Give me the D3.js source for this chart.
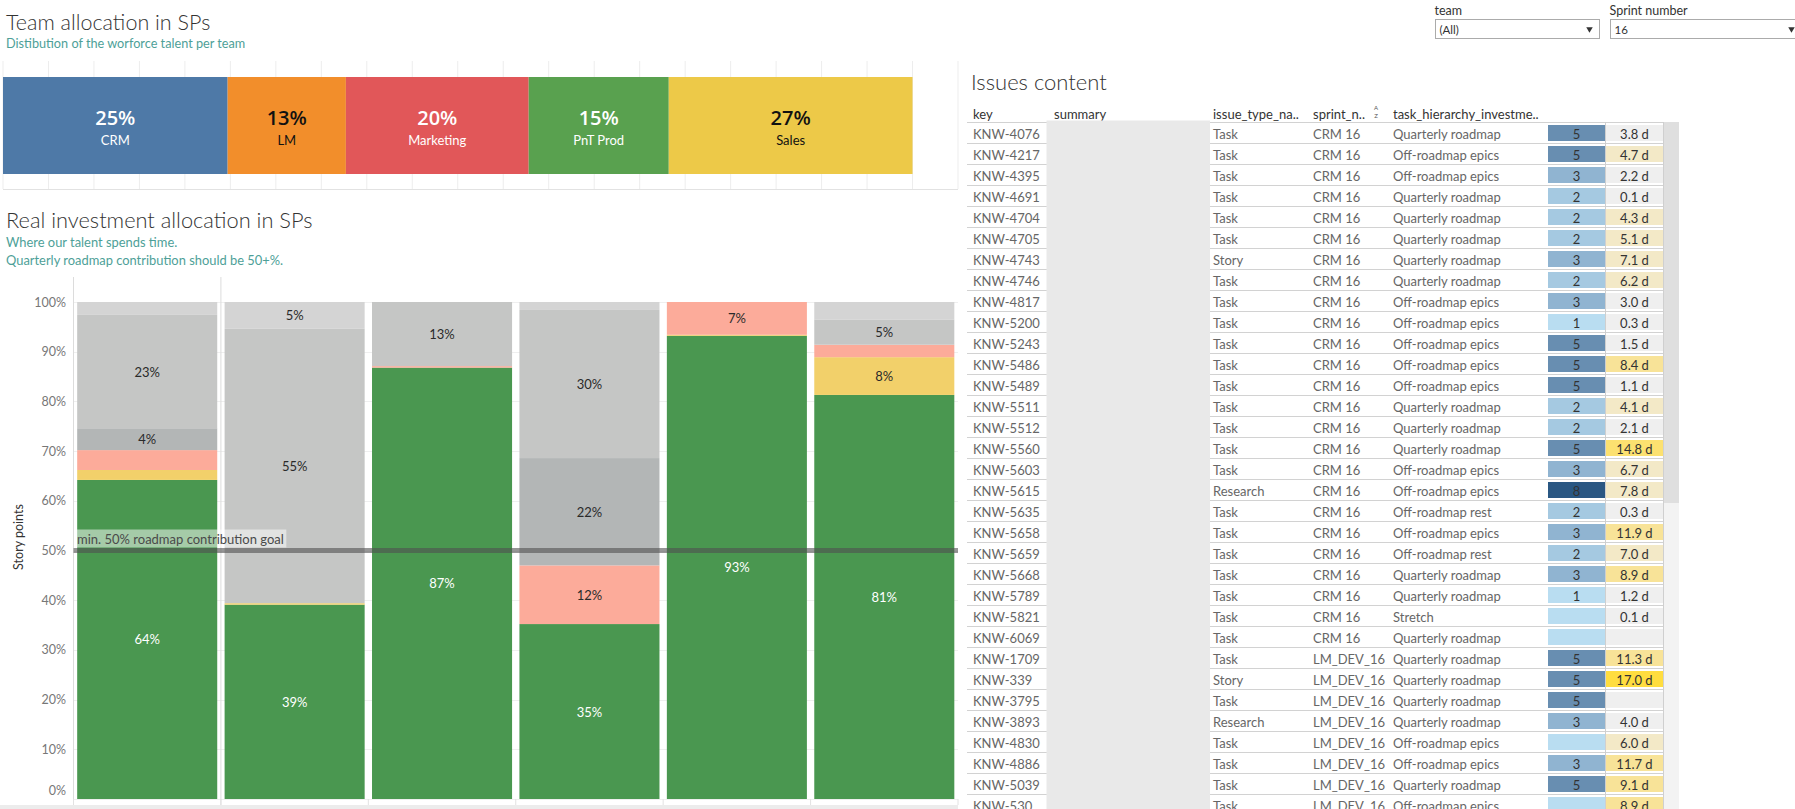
<!DOCTYPE html>
<html>
<head>
<meta charset="utf-8">
<script src="https://cdn.jsdelivr.net/npm/d3@7"></script>
<style>
  html, body { margin: 0; padding: 0; background: #fff; }
  svg { display: block; font-family: Lato, "Open Sans", sans-serif; }
</style>
</head>
<body>
<svg id="dash" width="1795" height="809"></svg>
<script>
// ---------------- DATA ----------------
// Team allocation (share of story points, %)
const teams = ["CRM", "LM", "Marketing", "PnT Prod", "Sales"];
const teamShare = [24.7, 13.0, 20.1, 15.4, 26.8];

// Real investment allocation (stacked %, per team bar)
const investTeams = ["CRM", "LM", "Marketing", "PnT Prod", "Sales", "Other"];
const investCategories = ["Quarterly roadmap", "Stretch", "Off-roadmap epics", "Off-roadmap rest", "Unplanned", "Unestimated"];
const quarterlyRoadmap = [64.2, 39.1, 86.8, 35.2, 93.2, 81.3];
const stretch          = [2.0, 0.3, 0.0, 0.0, 0.2, 7.6];
const offRoadmapEpics  = [4.0, 0.0, 0.3, 11.8, 6.6, 2.5];
const offRoadmapRest   = [4.4, 0.0, 0.0, 21.6, 0.0, 0.0];
const unplanned        = [22.8, 55.2, 12.9, 29.8, 0.0, 5.1];
const unestimated      = [2.6, 5.4, 0.0, 1.6, 0.0, 3.5];
const goalValue = 50;
const goalLabel = "min. 50% roadmap contribution goal";
const yTicks = [0, 10, 20, 30, 40, 50, 60, 70, 80, 90, 100];

// Issues table
const tableHeaders = ["key", "summary", "issue_type_na..", "sprint_n..", "task_hierarchy_investme.."];
const issueKeys = ["KNW-4076","KNW-4217","KNW-4395","KNW-4691","KNW-4704","KNW-4705","KNW-4743","KNW-4746","KNW-4817","KNW-5200","KNW-5243","KNW-5486","KNW-5489","KNW-5511","KNW-5512","KNW-5560","KNW-5603","KNW-5615","KNW-5635","KNW-5658","KNW-5659","KNW-5668","KNW-5789","KNW-5821","KNW-6069","KNW-1709","KNW-339","KNW-3795","KNW-3893","KNW-4830","KNW-4886","KNW-5039","KNW-530"];
const issueTypes = ["Task","Task","Task","Task","Task","Task","Story","Task","Task","Task","Task","Task","Task","Task","Task","Task","Task","Research","Task","Task","Task","Task","Task","Task","Task","Task","Story","Task","Research","Task","Task","Task","Task"];
const sprintNames = ["CRM 16","CRM 16","CRM 16","CRM 16","CRM 16","CRM 16","CRM 16","CRM 16","CRM 16","CRM 16","CRM 16","CRM 16","CRM 16","CRM 16","CRM 16","CRM 16","CRM 16","CRM 16","CRM 16","CRM 16","CRM 16","CRM 16","CRM 16","CRM 16","CRM 16","LM_DEV_16","LM_DEV_16","LM_DEV_16","LM_DEV_16","LM_DEV_16","LM_DEV_16","LM_DEV_16","LM_DEV_16"];
const hierarchy = ["Quarterly roadmap","Off-roadmap epics","Off-roadmap epics","Quarterly roadmap","Quarterly roadmap","Quarterly roadmap","Quarterly roadmap","Quarterly roadmap","Off-roadmap epics","Off-roadmap epics","Off-roadmap epics","Off-roadmap epics","Off-roadmap epics","Quarterly roadmap","Quarterly roadmap","Quarterly roadmap","Off-roadmap epics","Off-roadmap epics","Off-roadmap rest","Off-roadmap epics","Off-roadmap rest","Quarterly roadmap","Quarterly roadmap","Stretch","Quarterly roadmap","Quarterly roadmap","Quarterly roadmap","Quarterly roadmap","Quarterly roadmap","Off-roadmap epics","Off-roadmap epics","Quarterly roadmap","Off-roadmap epics"];
const storyPoints = [5,5,3,2,2,2,3,2,3,1,5,5,5,2,2,5,3,8,2,3,2,3,1,null,null,5,5,5,3,null,3,5,null];
const daysSpent = [3.8,4.7,2.2,0.1,4.3,5.1,7.1,6.2,3.0,0.3,1.5,8.4,1.1,4.1,2.1,14.8,6.7,7.8,0.3,11.9,7.0,8.9,1.2,0.1,null,11.3,17.0,null,4.0,6.0,11.7,9.1,8.9];

// Filters
const filterLabels = ["team", "Sprint number"];
const filterValues = ["(All)", "16"];

// ---------------- STYLE ----------------
const teamColors = ["#4e79a7", "#f28e2b", "#e15759", "#59a14f", "#edc948"];
const teamTextColors = ["#fff", "#111", "#fff", "#fff", "#111"];
const investColors = ["#4a9750", "#f2d06a", "#fcab9a", "#b3b6b6", "#c5c6c5", "#d4d4d4"];
const teal = "#4e9f98";
const svg = d3.select("#dash");

// ---------------- TEAM ALLOCATION ----------------
svg.append("text").attr("x", 6).attr("y", 22).attr("dominant-baseline", "central")
  .attr("font-size", 21.5).attr("font-weight", 300).attr("fill", "#333").text("Team allocation in SPs");
svg.append("text").attr("x", 6).attr("y", 43).attr("dominant-baseline", "central")
  .attr("font-size", 12.7).attr("fill", teal).text("Distibution of the worforce talent per team");

const xTop = d3.scaleLinear().domain([0, 105]).range([3, 958]);
const topG = svg.append("g");
topG.selectAll("line.vg").data(d3.range(0, 106, 5)).join("line")
  .attr("x1", d => xTop(d)).attr("x2", d => xTop(d)).attr("y1", 61).attr("y2", 189)
  .attr("stroke", "#ededed");
topG.append("line").attr("x1", xTop(0)).attr("x2", xTop(105)).attr("y1", 189.5).attr("y2", 189.5).attr("stroke", "#e2e2e2");

const teamEnds = d3.cumsum(teamShare);
const teamRows = teams.map((t, i) => ({ team: t, v: teamShare[i], x0: teamEnds[i] - teamShare[i], x1: teamEnds[i], i }));
topG.selectAll("rect.team").data(teamRows).join("rect")
  .attr("x", d => xTop(d.x0)).attr("width", d => xTop(d.x1) - xTop(d.x0))
  .attr("y", 77).attr("height", 97).attr("fill", d => teamColors[d.i]);
topG.selectAll("text.pct").data(teamRows).join("text")
  .attr("x", d => (xTop(d.x0) + xTop(d.x1)) / 2).attr("y", 117).attr("text-anchor", "middle")
  .attr("dominant-baseline", "central").attr("font-size", 20).attr("font-weight", 600)
  .attr("font-family", "'Open Sans', Lato, sans-serif")
  .attr("fill", d => teamTextColors[d.i]).text(d => Math.round(d.v) + "%");
topG.selectAll("text.name").data(teamRows).join("text")
  .attr("x", d => (xTop(d.x0) + xTop(d.x1)) / 2).attr("y", 139.5).attr("text-anchor", "middle")
  .attr("dominant-baseline", "central").attr("font-size", 13)
  .attr("fill", d => teamTextColors[d.i]).text(d => d.team);

// ---------------- REAL INVESTMENT ----------------
svg.append("text").attr("x", 6).attr("y", 219).attr("dominant-baseline", "central")
  .attr("font-size", 21.8).attr("font-weight", 300).attr("fill", "#333").text("Real investment allocation in SPs");
svg.append("text").attr("x", 6).attr("y", 241.5).attr("dominant-baseline", "central")
  .attr("font-size", 12.9).attr("fill", teal).text("Where our talent spends time.");
svg.append("text").attr("x", 6).attr("y", 259.5).attr("dominant-baseline", "central")
  .attr("font-size", 12.9).attr("fill", teal).text("Quarterly roadmap contribution should be 50+%.");

const seriesArrays = [quarterlyRoadmap, stretch, offRoadmapEpics, offRoadmapRest, unplanned, unestimated];
const investRows = investTeams.map((t, i) => {
  const r = { team: t };
  investCategories.forEach((c, k) => r[c] = seriesArrays[k][i]);
  return r;
});
const stacked = d3.stack().keys(investCategories)(investRows);

const xInv = d3.scaleBand().domain(investTeams).range([73.5, 958]).paddingInner(0.05).paddingOuter(0.025);
const yInv = d3.scaleLinear().domain([0, 100]).range([799, 302]);
const invG = svg.append("g");

// gridlines
invG.selectAll("line.hg").data(yTicks).join("line")
  .attr("x1", 73.5).attr("x2", 958).attr("y1", d => Math.round(yInv(d)) + 0.5).attr("y2", d => Math.round(yInv(d)) + 0.5)
  .attr("stroke", "#efefef");
// axis lines / dividers
const step = xInv.step();
invG.append("line").attr("x1", 73.5).attr("x2", 73.5).attr("y1", 277).attr("y2", 805).attr("stroke", "#dcdcdc");
invG.append("line").attr("x1", 73.5 + step).attr("x2", 73.5 + step).attr("y1", 277).attr("y2", 805).attr("stroke", "#dcdcdc");
invG.selectAll("line.bt").data(d3.range(0, investTeams.length + 1)).join("line")
  .attr("x1", d => 73.5 + d * step).attr("x2", d => 73.5 + d * step).attr("y1", 799).attr("y2", 805).attr("stroke", "#e2e2e2");
invG.append("rect").attr("x", 0).attr("y", 805).attr("width", 958).attr("height", 4).attr("fill", "#ececec");

// y tick labels
invG.selectAll("text.yt").data(yTicks).join("text")
  .attr("x", 66).attr("y", d => Math.min(yInv(d), yInv(0) - 9)).attr("text-anchor", "end")
  .attr("dominant-baseline", "central").attr("font-size", 12.5).attr("fill", "#777")
  .text(d => d + "%");
invG.append("text").attr("transform", "translate(18,537) rotate(-90)").attr("text-anchor", "middle")
  .attr("dominant-baseline", "central").attr("font-size", 12.5).attr("fill", "#333").text("Story points");

// stacked bars
stacked.forEach((layer, k) => {
  invG.selectAll("rect.s" + k).data(layer).join("rect")
    .attr("x", d => xInv(d.data.team)).attr("width", xInv.bandwidth())
    .attr("y", d => yInv(d[1])).attr("height", d => Math.max(0, yInv(d[0]) - yInv(d[1])))
    .attr("fill", investColors[k]);
});
stacked.forEach((layer, k) => {
  invG.selectAll("text.l" + k).data(layer.filter(d => d[1] - d[0] >= 4.2)).join("text")
    .attr("x", d => xInv(d.data.team) + xInv.bandwidth() / 2)
    .attr("y", d => (yInv(d[0]) + yInv(d[1])) / 2)
    .attr("text-anchor", "middle").attr("dominant-baseline", "central").attr("font-size", 13)
    .attr("fill", k === 0 ? "#fff" : "#2a2a2a")
    .text(d => Math.round(d[1] - d[0]) + "%");
});

// goal line + label
invG.append("line").attr("x1", 73.5).attr("x2", 958).attr("y1", yInv(goalValue)).attr("y2", yInv(goalValue))
  .attr("stroke", "rgba(80,80,80,0.6)").attr("stroke-width", 5);
const goalText = invG.append("text").attr("x", 77).attr("y", yInv(goalValue) - 11.5)
  .attr("dominant-baseline", "central").attr("font-size", 13).attr("fill", "#4a4a4a").text(goalLabel);
const gw = goalText.node().getComputedTextLength();
invG.insert("rect", "text:last-of-type").attr("x", 76.5).attr("y", yInv(goalValue) - 21)
  .attr("width", gw + 3).attr("height", 18).attr("fill", "rgba(255,255,255,0.5)");
goalText.raise();

// ---------------- FILTERS ----------------
const filterX = [1435.5, 1610.5];
const filterW = [164, 190];
filterLabels.forEach((lab, i) => {
  svg.append("text").attr("x", filterX[i] - 1).attr("y", 10).attr("dominant-baseline", "central")
    .attr("font-size", 12.5).attr("fill", "#333").text(lab);
  svg.append("rect").attr("x", filterX[i]).attr("y", 19.5).attr("width", filterW[i]).attr("height", 19)
    .attr("fill", "#fff").attr("stroke", "#ababab");
  svg.append("text").attr("x", filterX[i] + 4).attr("y", 29.5).attr("dominant-baseline", "central")
    .attr("font-size", 11.5).attr("fill", "#333").text(filterValues[i]);
  svg.append("path").attr("d", d3.symbol(d3.symbolTriangle, 18)())
    .attr("transform", `translate(${i === 0 ? 1589.5 : 1791.5},29) rotate(180)`).attr("fill", "#333");
});

// ---------------- ISSUES TABLE ----------------
svg.append("text").attr("x", 971).attr("y", 81).attr("dominant-baseline", "central")
  .attr("font-size", 22).attr("font-weight", 300).attr("fill", "#333").text("Issues content");

const colX = [973, 1054, 1213, 1313, 1393];
const rowY0 = 122.5, rowH = 21;
const tG = svg.append("g");
tG.selectAll("text.hdr").data(tableHeaders).join("text")
  .attr("x", (d, i) => colX[i]).attr("y", 114).attr("dominant-baseline", "central")
  .attr("font-size", 13).attr("fill", "#333").text(d => d);
// sort icon near sprint header
tG.append("text").attr("x", 1376).attr("y", 109.5).attr("text-anchor", "middle").attr("font-size", 6).attr("fill", "#555").text("A");
tG.append("text").attr("x", 1376).attr("y", 117.5).attr("text-anchor", "middle").attr("font-size", 6).attr("fill", "#555").text("Z");

const rows = issueKeys.map((k, i) => ({ i, key: k, type: issueTypes[i], sprint: sprintNames[i], hier: hierarchy[i], sp: storyPoints[i], days: daysSpent[i] }));
const yRow = d3.scaleLinear().domain([0, 1]).range([rowY0, rowY0 + rowH]);

// scrollbar
tG.append("rect").attr("x", 1663).attr("y", 122).attr("width", 16).attr("height", 381).attr("fill", "#dfdfdf");
tG.append("rect").attr("x", 1663).attr("y", 503).attr("width", 16).attr("height", 306).attr("fill", "#f3f3f3");

// row separators
tG.selectAll("line.row").data(d3.range(0, rows.length + 1)).join("line")
  .attr("x1", 967).attr("x2", 1663).attr("y1", d => yRow(d)).attr("y2", d => yRow(d)).attr("stroke", "#d2d2d2");
// summary column (redacted)
tG.append("rect").attr("x", 1046.5).attr("y", 120.5).attr("width", 163.5).attr("height", 700).attr("fill", "#e9e9e9");

const spColor = d3.scaleLinear().domain([1, 8]).range(["#b9ddf1", "#2a5783"]).interpolate(d3.interpolateLab);
const dayColor = d3.scaleThreshold().domain([4.05, 8, 12, 16]).range(["#efefef", "#f3e9c7", "#f8e398", "#fce170", "#ffdd3f"]);

tG.selectAll("rect.sp").data(rows).join("rect")
  .attr("x", 1548).attr("width", 57).attr("y", d => yRow(d.i) + 2.5).attr("height", 16)
  .attr("fill", d => d.sp == null ? "#b9ddf1" : spColor(d.sp));
tG.selectAll("rect.dy").data(rows).join("rect")
  .attr("x", 1606).attr("width", 57).attr("y", d => yRow(d.i) + 2.5).attr("height", 16)
  .attr("fill", d => d.days == null ? "#efefef" : dayColor(d.days));
tG.append("line").attr("x1", 1605.5).attr("x2", 1605.5).attr("y1", 122).attr("y2", 809).attr("stroke", "#cfcfcf");
tG.append("line").attr("x1", 1663.5).attr("x2", 1663.5).attr("y1", 122).attr("y2", 809).attr("stroke", "#cfcfcf");

const cellText = (sel, x, fn, anchor, fill) => sel.selectAll(null).data(rows.filter(d => fn(d) != null)).join("text")
  .attr("x", x).attr("y", d => yRow(d.i) + rowH / 2 + 0.5).attr("text-anchor", anchor)
  .attr("dominant-baseline", "central").attr("font-size", 13).attr("fill", fill).text(fn);
cellText(tG, colX[0], d => d.key, "start", "#666");
cellText(tG, colX[2], d => d.type, "start", "#666");
cellText(tG, colX[3], d => d.sprint, "start", "#666");
cellText(tG, colX[4], d => d.hier, "start", "#666");
cellText(tG, 1576.5, d => d.sp, "middle", "#333");
cellText(tG, 1634.5, d => d.days == null ? null : d.days.toFixed(1) + " d", "middle", "#333");
</script>
</body>
</html>
